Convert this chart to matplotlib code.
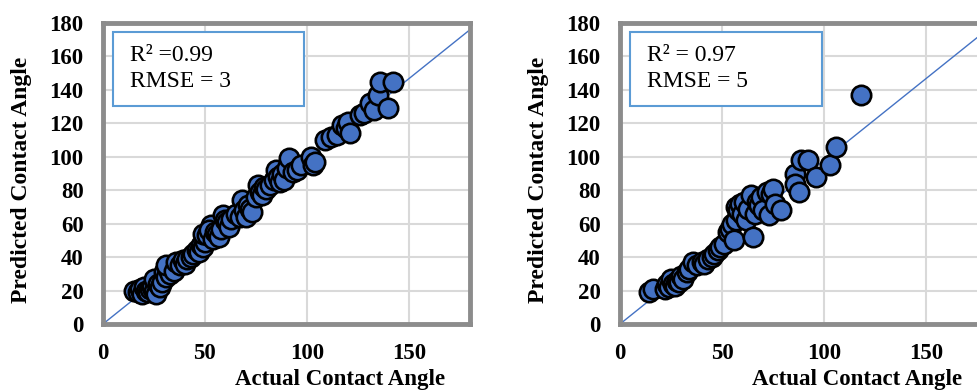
import matplotlib
matplotlib.use("Agg")
import numpy as np
import matplotlib.pyplot as plt
from matplotlib.patches import Rectangle

# values
train_actual = [15, 17, 18, 19, 20, 21, 22, 23, 24, 25, 26, 25, 27, 28, 29, 30, 31, 32, 33, 34,
                31, 35, 36, 38, 39, 40, 41, 43, 44, 46, 47, 48, 49, 50, 49, 51, 53, 52, 54, 55,
                56, 57, 58, 59, 60, 61, 62, 63, 65, 67, 68, 69, 70, 71, 72, 73, 75, 76, 77, 78,
                79, 80, 82, 84, 85, 86, 87, 88, 89, 90, 91, 93, 95, 97, 102, 103, 104, 109, 112, 115,
                117, 119, 120, 121, 126, 128, 131, 133, 135, 136, 140, 142]
train_pred = [20, 19, 21, 18, 22, 20, 19, 21, 22, 20, 18, 27, 24, 22, 25, 31, 28, 33, 30, 34,
              35, 32, 37, 35, 38, 36, 39, 40, 42, 44, 43, 47, 46, 49, 54, 53, 59, 56, 51, 55,
              54, 52, 57, 65, 62, 61, 58, 63, 66, 64, 74, 68, 64, 71, 69, 67, 76, 83, 79, 77,
              82, 81, 83, 86, 92, 88, 85, 90, 86, 93, 99, 91, 92, 95, 100, 95, 97, 110, 112, 113,
              119, 117, 121, 114, 125, 126, 132, 128, 137, 145, 129, 145]

test_actual = [14, 16, 22, 23, 24, 25, 26, 27, 28, 29, 30, 31, 33, 34, 36, 38, 40, 41, 43, 45,
               46, 48, 49, 51, 53, 54, 55, 56, 57, 57, 58, 59, 60, 61, 62, 63, 64, 65, 66, 67,
               68, 69, 70, 72, 73, 74, 75, 76, 79, 86, 86, 88, 89, 92, 96, 103, 106, 118]
test_pred = [19, 21, 21, 24, 22, 27, 24, 23, 26, 25, 29, 27, 31, 33, 37, 35, 37, 36, 39, 40,
             42, 44, 46, 48, 55, 57, 60, 50, 62, 70, 68, 72, 66, 73, 62, 69, 77, 52, 66, 73,
             71, 76, 68, 79, 65, 78, 81, 72, 68, 90, 84, 79, 98, 98, 88, 95, 106, 137]

fit_slope = 0.978
labels = ["R\u00b2 =0.99\nRMSE = 3", "R\u00b2 = 0.97\nRMSE = 5"]

serif = "Liberation Serif"
blue = "#4472C4"

fig = plt.figure(figsize=(9.77, 3.90), dpi=100)
positions = [[0.1054, 0.1692, 0.3757, 0.7718], [0.6346, 0.1692, 0.3757, 0.7718]]
datasets = [(train_actual, train_pred), (test_actual, test_pred)]

for pos, (xa, ya), txt in zip(positions, datasets, labels):
    ax = fig.add_axes(pos)
    ax.set_xlim(0, 180)
    ax.set_ylim(0, 180)
    ax.set_xticks([0, 50, 100, 150])
    ax.set_yticks(np.arange(0, 181, 20))
    ax.grid(True, color="#d9d9d9", linewidth=1.5)
    ax.set_axisbelow(True)
    ax.tick_params(length=0, pad=14)
    for lab in ax.get_xticklabels() + ax.get_yticklabels():
        lab.set_fontfamily(serif)
        lab.set_fontweight("bold")
        lab.set_fontsize(16.5)
    for sp in ax.spines.values():
        sp.set_color("#8c8c8c")
        sp.set_linewidth(3.5)

    xs = np.array([0, 180])
    ax.plot(xs, fit_slope * xs, color=blue, linewidth=1.0, zorder=2)
    ax.scatter(xa, ya, s=195, color=blue, edgecolor="black", linewidth=1.9, zorder=3)

    ax.set_xlabel("Actual Contact Angle", fontfamily=serif, fontweight="bold", fontsize=16.5)
    ax.set_ylabel("Predicted Contact Angle", fontfamily=serif, fontweight="bold", fontsize=17)
    ax.xaxis.set_label_coords(0.646, -0.148)
    ax.yaxis.set_label_coords(-0.193, 0.48)

    ax.add_patch(Rectangle((0.027, 0.724), 0.522, 0.246, transform=ax.transAxes,
                           facecolor="white", edgecolor="#5B9BD5", linewidth=1.5, zorder=4))
    ax.text(0.074, 0.85, txt, transform=ax.transAxes, fontfamily=serif, fontsize=17,
            va="center", ha="left", linespacing=1.3, zorder=5)

fig.savefig("out.png", dpi=100)
